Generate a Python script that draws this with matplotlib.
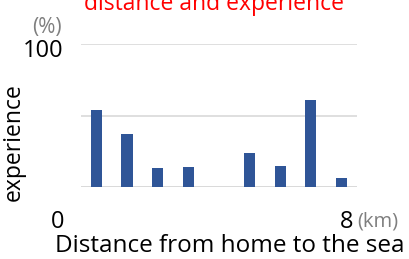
import matplotlib.pyplot as plt

# distance bins (km) and share with experience (%)
bins = list(range(1, 10))
experience = [54, 37, 13, 14, 0, 24, 15, 61, 6]
y_ticks = [0, 50, 100]

plt.rcParams["font.family"] = ["Open Sans", "DejaVu Sans"]

fig = plt.figure(figsize=(4.1, 2.59), dpi=100)
ax = fig.add_axes([0.1976, 0.278, 0.673, 0.552])

ax.bar(bins, experience, width=0.36, color="#2f5597", zorder=3)
ax.set_xlim(0.5, 9.5)
ax.set_ylim(0, 100)
ax.set_yticks(y_ticks)
ax.yaxis.grid(True, color="#d9d9d9", linewidth=1.2, zorder=0)
ax.tick_params(left=False, bottom=False, labelleft=False, labelbottom=False)
for s in ax.spines.values():
    s.set_visible(False)
ax.axhline(0, color="#d9d9d9", linewidth=1.2, zorder=1)

# labels placed like the original slide (title is cut at the top edge)
fig.text(214 / 410, 1 - 10 / 259, "distance and experience", color="red",
         fontsize=16.5, ha="center", va="baseline")
fig.text(62 / 410, 1 - 27 / 259, "(%)", color="#7f7f7f", fontsize=15,
         ha="right", va="center")
fig.text(63 / 410, 1 - 51 / 259, "100", color="black", fontsize=17,
         ha="right", va="center")
fig.text(14 / 410, 1 - 142 / 259, "experience", color="black", fontsize=16.5,
         rotation=90, ha="center", va="center")
fig.text(58 / 410, 1 - 222 / 259, "0", color="black", fontsize=17,
         ha="center", va="center")
fig.text(347 / 410, 1 - 222 / 259, "8", color="black", fontsize=17,
         ha="center", va="center")
fig.text(357 / 410, 1 - 222 / 259, "(km)", color="#7f7f7f", fontsize=14.5,
         ha="left", va="center")
fig.text(230 / 410, 1 - 246 / 259, "Distance from home to the sea",
         color="black", fontsize=17.5, ha="center", va="center")

fig.savefig("out.png", dpi=100)
